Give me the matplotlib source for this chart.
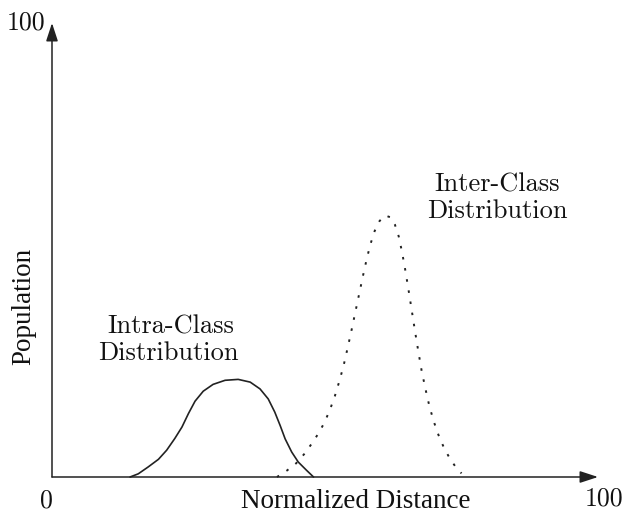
import matplotlib
matplotlib.use("Agg")
import matplotlib.pyplot as plt

plt.rcParams['axes.formatter.use_mathtext'] = True

# Data, x: normalized distance 0-100, y: population 0-100
intra_x = [14.3, 15.8, 17.6, 19.5, 21.0, 22.5, 23.8, 25.0, 26.2, 27.7, 29.5,
           31.7, 34.1, 36.3, 38.1, 39.6, 40.8, 41.8, 42.7, 43.9, 45.1, 46.6,
           47.9]
intra_y = [0.0, 0.7, 2.2, 3.9, 5.9, 8.5, 11.0, 14.0, 16.7, 18.9, 20.4,
           21.3, 21.5, 20.9, 19.4, 17.2, 14.3, 11.3, 8.4, 5.5, 3.3, 1.5,
           0.0]

inter_x = [41.2, 43.0, 44.7, 46.3, 47.6, 48.8, 49.9, 50.9, 51.8, 52.6, 53.4,
           54.1, 54.8, 55.5, 56.2, 56.9, 57.6, 58.3, 59.1, 60.0, 61.0, 62.0,
           62.8, 63.5, 64.1, 64.7, 65.3, 65.9, 66.5, 67.1, 67.7, 68.4, 69.1,
           69.9, 70.8, 71.8, 72.9, 74.0, 75.0]
inter_y = [0.0, 1.4, 3.0, 5.2, 7.4, 9.6, 12.0, 14.8, 17.8, 21.0, 24.5,
           28.2, 32.0, 36.0, 40.0, 44.0, 47.8, 51.2, 54.2, 56.4, 57.6, 57.2,
           55.6, 53.0, 49.6, 45.6, 41.2, 36.6, 32.0, 27.6, 23.4, 19.4, 15.7,
           12.3, 9.2, 6.4, 4.0, 2.1, 0.8]

x_label = "Normalized Distance"
y_label = "Population"
x_ticks = ["0", "100"]
y_tick = "100"
intra_label = ["Intra-Class", "Distribution"]
inter_label = ["Inter-Class", "Distribution"]

W, H = 626, 511
fig = plt.figure(figsize=(W / 100, H / 100), dpi=100)
ax = fig.add_axes([52 / W, (H - 477) / H, 546 / W, 454 / H])
ax.set_xlim(0, 100)
ax.set_ylim(0, 100)
ax.axis('off')

col = '#222222'
arrow_kw = dict(arrowstyle='-|>,head_length=1.1,head_width=0.36', lw=1.1,
                color=col, shrinkA=0, shrinkB=0, mutation_scale=10)
ax.annotate('', xy=(100, 0), xytext=(0, 0), arrowprops=arrow_kw,
            annotation_clip=False)
ax.annotate('', xy=(0, 100), xytext=(0, 0), arrowprops=arrow_kw,
            annotation_clip=False)

ax.plot(intra_x, intra_y, color=col, lw=1.2, clip_on=False,
        solid_capstyle='round', solid_joinstyle='round')
ax.plot(inter_x, inter_y, color=col, lw=1.4, ls=(0, (1.3, 4.5)),
        clip_on=False)


def ptext(px, py, s, **kw):
    fig.text(px / W, 1 - py / H, s, **kw)


cm = dict(family='cmr10', color='#111111')
tn = dict(family='Liberation Serif', color='#111111')

ptext(26, 30, y_tick, ha='center', va='baseline', size=18.5, **cm)
ptext(46.5, 507, x_ticks[0], ha='center', va='baseline', size=18.5, **cm)
ptext(604.5, 506, x_ticks[1], ha='center', va='baseline', size=18.5, **cm)

ptext(356, 508, x_label, ha='center', va='baseline', size=19.5, **tn)
ptext(24, 306, y_label, ha='center', va='center', rotation=90, size=19.5, **tn)

ptext(171, 334, intra_label[0], ha='center', va='baseline', size=19, **cm)
ptext(168.5, 360, intra_label[1], ha='center', va='baseline', size=19, **cm)
ptext(497, 192, inter_label[0], ha='center', va='baseline', size=19, **cm)
ptext(497, 218, inter_label[1], ha='center', va='baseline', size=19, **cm)

fig.savefig('out.png', dpi=100)
